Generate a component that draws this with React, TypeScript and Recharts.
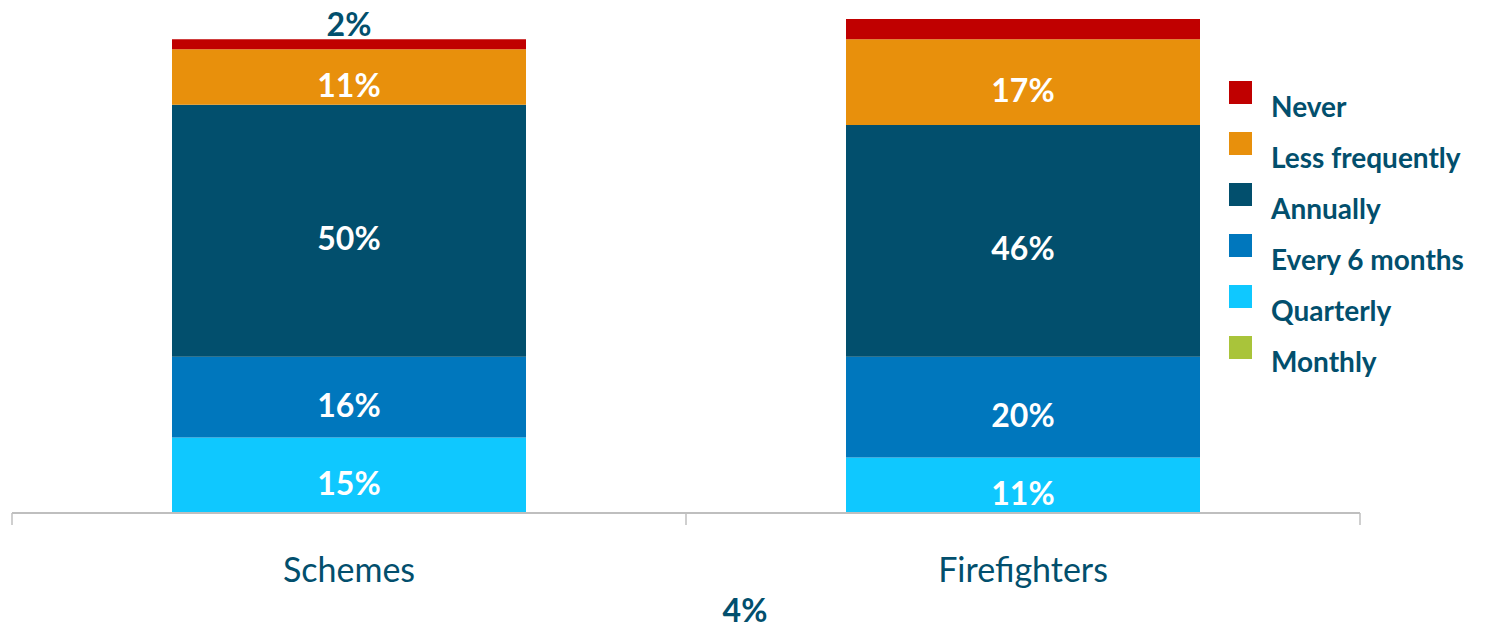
import React from "react";
import { BarChart, Bar, XAxis, YAxis, LabelList, Legend } from "recharts";

// Survey answers, share of respondents (%)
const categories = ["Schemes", "Firefighters"];
const monthly = [0, 0];
const quarterly = [15, 11];
const every6Months = [16, 20];
const annually = [50, 46];
const lessFrequently = [11, 17];
const never = [2, 4];

const TEAL = "#024F6D";
const GRID = "#BFBFBF";
const FONT = "Lato, 'Open Sans', sans-serif";

// stacked bottom -> top
const series = [
  { key: "monthly", name: "Monthly", color: "#A9C43A", values: monthly },
  { key: "quarterly", name: "Quarterly", color: "#0FC8FF", values: quarterly },
  { key: "every6", name: "Every 6 months", color: "#0077BD", values: every6Months },
  { key: "annually", name: "Annually", color: TEAL, values: annually },
  { key: "less", name: "Less frequently", color: "#E8900C", values: lessFrequently },
  { key: "never", name: "Never", color: "#C00000", values: never },
];

const data = categories.map((name, i) => {
  const row: Record<string, any> = { name, pos: i + 0.5 };
  series.forEach((s) => (row[s.key] = s.values[i]));
  return row;
});

// boundaries get a tick mark, half positions get the category name
const axisTicks = categories.flatMap((_, i) => [i, i + 0.5]).concat(categories.length);

const pct = (v: any) => (v ? `${v}%` : "");

const AxisTick = ({ x, y, payload }: any) => {
  const v = payload.value;
  if (Number.isInteger(v)) {
    return <line x1={x} x2={x} y1={y} y2={y + 12} stroke={GRID} strokeWidth={1.5} />;
  }
  return (
    <text x={x} y={y + 55} textAnchor="middle" dominantBaseline="central" fill={TEAL} fontSize={34} fontFamily={FONT}>
      {categories[Math.floor(v)]}
    </text>
  );
};

// white label in the middle of each slice (nudged down a little, like the original)
const SliceLabel = ({ x, y, width, height, value }: any) => {
  if (!value) return null;
  return (
    <text x={x + width / 2} y={y + height / 2 + 7} textAnchor="middle" dominantBaseline="central" fill="#fff" fontSize={32} fontWeight={700} fontFamily={FONT}>
      {pct(value)}
    </text>
  );
};

// the small "Never" slice on Schemes gets its label above the bar
const NeverLabel = ({ x, y, width, index, value }: any) => {
  if (index !== 0) return null;
  return (
    <text x={x + width / 2} y={y - 16} textAnchor="middle" dominantBaseline="central" fill={TEAL} fontSize={32} fontWeight={700} fontFamily={FONT}>
      {pct(value)}
    </text>
  );
};

const LegendContent = () => (
  <div style={{ fontFamily: FONT }}>
    {[...series].reverse().map((s) => (
      <div key={s.key} style={{ position: "relative", height: 51 }}>
        <div style={{ position: "absolute", left: 0, top: 0, width: 23, height: 23, background: s.color }} />
        <div style={{ position: "absolute", left: 42, top: 11, fontSize: 28, lineHeight: 1, fontWeight: 700, color: TEAL, whiteSpace: "nowrap" }}>
          {s.name}
        </div>
      </div>
    ))}
  </div>
);

export default function App() {
  return (
    <div style={{ position: "absolute", left: 0, top: 0, width: 1489, height: 628, background: "#fff" }}>
      <BarChart width={1489} height={628} data={data} margin={{ top: 9, right: 129, left: 12, bottom: 0 }}>
        <XAxis dataKey="name" hide height={0} />
        <XAxis
          xAxisId="edges"
          type="number"
          dataKey="pos"
          domain={[0, categories.length]}
          ticks={axisTicks}
          interval={0}
          height={115}
          tickSize={0}
          tickMargin={0}
          tickLine={false}
          axisLine={{ stroke: GRID, strokeWidth: 2 }}
          tick={<AxisTick />}
        />
        <YAxis hide domain={[0, 100]} />
        <Legend
          layout="vertical"
          align="center"
          verticalAlign="middle"
          content={<LegendContent />}
          wrapperStyle={{ left: 1229, top: 81, width: 260 }}
        />
        {series.map((s) => (
          <Bar key={s.key} dataKey={s.key} name={s.name} stackId="a" fill={s.color} barSize={354} isAnimationActive={false}>
            <LabelList dataKey={s.key} content={s.key === "never" ? <NeverLabel /> : <SliceLabel />} />
          </Bar>
        ))}
      </BarChart>
      {/* stray label for Firefighters "Never", sits under the axis in the original */}
      <div style={{ position: "absolute", left: 700, width: 90, top: 594, textAlign: "center", fontFamily: FONT, fontSize: 32, fontWeight: 700, color: TEAL, lineHeight: "32px" }}>
        4%
      </div>
    </div>
  );
}
